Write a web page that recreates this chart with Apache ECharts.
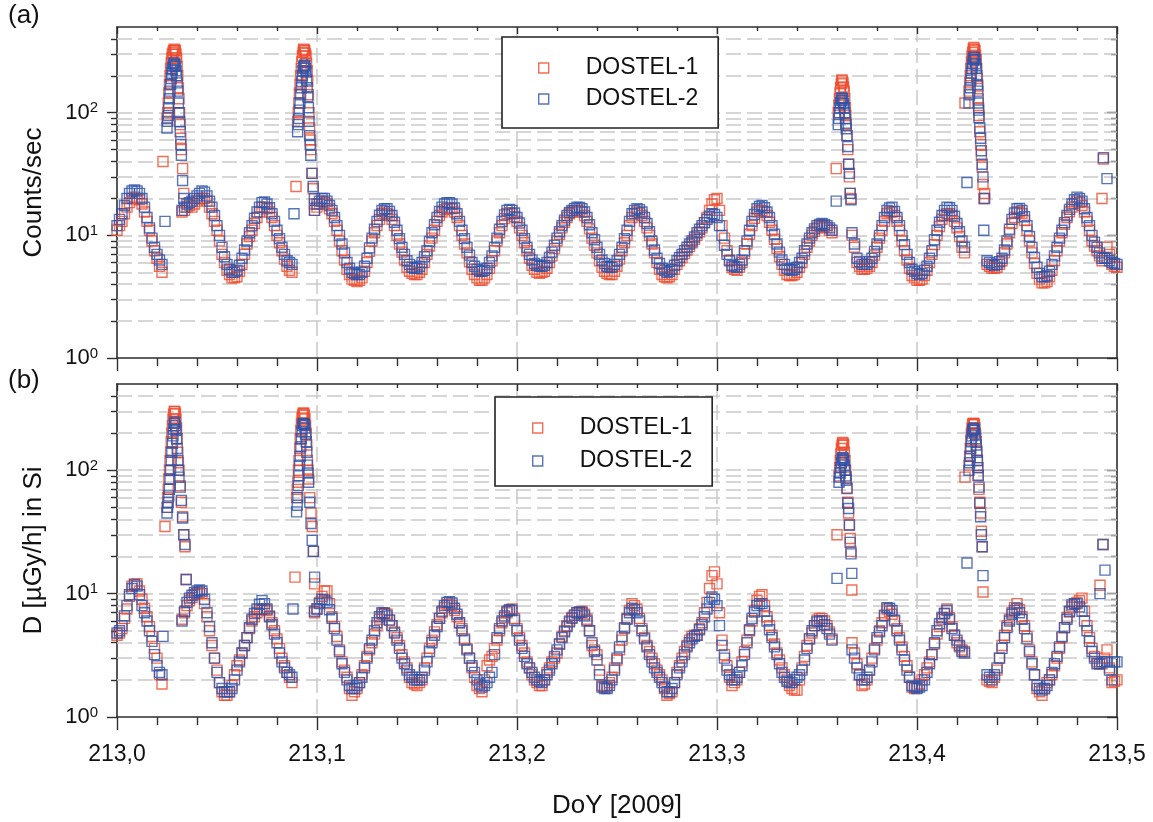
<!DOCTYPE html>
<html>
<head>
<meta charset="utf-8">
<title>DOSTEL count rates and dose rates, DoY 213 (2009)</title>
<script src="https://cdn.jsdelivr.net/npm/echarts@6/dist/echarts.min.js"></script>
<style>
  html, body { margin: 0; padding: 0; background: #ffffff; }
  #chart { width: 1153px; height: 822px; }
</style>
</head>
<body>
<div id="chart"></div>
<script>
// Regular sampling: one value every 0.00125 day (1.8 min) from DoY 213.000 to 213.500
const doyStart = 213.0;
const doyStep = 0.00125;

// (a) count rates [counts/sec], DOSTEL-1
const counts1 = [
  11, 12, 13, 15, 17, 18.5, 20, 20.5, 20, 19.5, 18, 15.5, 13, 11, 9, 7.5, 6.5, 5.6, 5, null,
  null, null, null, null, null, null, 15.5, 16, 17, 17.5, 17, 18, 19, 20, 20, 20, 19, 17, 15, 13,
  11, 9, 7, 6, 5.2, 4.8, 4.5, 4.5, 4.6, 5.1, 5.8, 7, 8.5, 9.8, 11, 12.5, 14, 15.5, 17, 17,
  16.5, 15.5, 14, 12, 10, 8.7, 7.5, 6.4, 5.6, 5.2, 5, null, null, null, null, null, null, null, null, 16,
  17, 18, 19, 18.5, 18, 16.5, 15, 13, 11, 9, 7.5, 6.3, 5.3, 4.8, 4.4, 4.3, 4.2, 4.3, 4.5, 5.1,
  6, 7.4, 9, 10.5, 12, 13.5, 15, 15.5, 15, 14.5, 13.5, 12, 10, 8.5, 7.3, 6.3, 5.5, 5.1, 4.9, 4.8,
  4.8, 5, 5.3, 6, 7, 8.2, 9.5, 11, 13, 14.5, 15.5, 16.2, 16.5, 16.7, 16.5, 15.5, 14, 12, 10, 8.5,
  7.2, 6.1, 5.3, 4.8, 4.5, 4.3, 4.3, 4.5, 4.8, 5.4, 6.2, 7.5, 9, 10.5, 12, 13.7, 15, 15.3, 15, 14.2,
  13, 11.5, 10, 8.7, 7.5, 6.5, 5.7, 5.3, 5, 4.9, 5, 5.1, 5.4, 6, 6.8, 7.8, 9, 10.2, 11.5, 12.8,
  14, 15, 15.5, 16, 16, 15.8, 15.5, 14.5, 13, 11.3, 9.5, 8.3, 7.2, 6.2, 5.5, 5.1, 4.9, 4.8, 4.8, 5.1,
  5.6, 6.4, 7.5, 8.7, 10, 12, 14, 15, 15.5, 15.2, 14.5, 13, 11.5, 10, 8.5, 7.2, 6, 5.3, 4.8, 4.6,
  4.5, 4.6, 4.8, 5.3, 5.8, 6.2, 6.6, 7.1, 7.6, 8.1, 8.7, 9.3, 10, 10.7, 11.5, 12.7, 14, 16, 18, 19.5,
  20, 16, 12, 9.5, 7.5, 6.3, 5.5, 5.3, 5.2, 5.5, 6, 7.1, 8.5, 10.2, 12, 13.8, 15.5, 16, 16, 15.5,
  14.5, 12.8, 11, 9.3, 7.8, 6.7, 5.8, 5.2, 4.8, 4.7, 4.7, 4.8, 5, 5.5, 6, 7, 8, 9, 10, 10.8,
  11.5, 11.8, 12, 11.8, 11.5, 11, 10.5, null, null, null, null, null, null, null, 10, 8, 6, 5.6, 5.3, 5.3,
  5.4, 5.6, 6, 6.9, 8, 9.5, 11, 13, 15, 15.5, 15.5, 14.5, 13, 11, 9, 7.5, 6.3, 5.4, 4.7, 4.5,
  4.3, 4.3, 4.4, 4.7, 5.2, 6, 7, 8.4, 10, 11.8, 13.5, 14.5, 15, 15, 14.5, 13, 11.5, 9.8, 8, 7.2,
  null, null, null, null, null, null, null, null, 5.8, 5.6, 5.4, 5.4, 5.5, 5.8, 6.2, 7.2, 8.5, 10.5, 12.5, 14,
  15.5, 15.5, 15, 13.2, 11, 9, 7.2, 5.9, 4.9, 4.4, 4.1, 4.1, 4.2, 4.6, 5.2, 6.2, 7.5, 9, 10.5, 12.3,
  14, 15.6, 17, 18.2, 19, 18.5, 17.5, 15.5, 13, 11, 9, 8.2, 7.5, 6.8, 6.2, 6.5, 8, 7, 5.8, 5.6,
  5.5
];

// (a) count rates [counts/sec], DOSTEL-2
const counts2 = [
  12, 13.5, 15, 17.5, 20, 22, 23, 23.5, 23, 22, 20, 17, 14, 11.5, 9.5, 8, 7, 6.3, 5.8, null,
  null, null, null, null, null, null, 16, 17, 18, 18.5, 19, 20, 21, 22, 23, 22.5, 21, 19, 17, 14.5,
  12, 10, 8, 6.7, 5.8, 5.3, 5, 5, 5.2, 5.7, 6.5, 7.6, 9, 10.5, 12, 13.8, 15.5, 17, 18.5, 18.7,
  18, 16.8, 15, 13, 11, 9.4, 8, 7, 6.2, 6, 5.8, null, null, null, null, null, null, null, null, 16,
  18, 19, 20, 20, 19, 17.5, 16, 14, 12, 10, 8.5, 7.2, 6, 5.4, 5, 4.9, 4.8, 4.8, 5, 5.6,
  6.5, 7.9, 9.5, 11.2, 13, 14.6, 16, 16.5, 16.5, 15.7, 14.5, 12.8, 11, 9.4, 8, 7, 6.2, 5.8, 5.5, 5.4,
  5.4, 5.6, 6, 6.7, 7.5, 8.9, 10.5, 12.2, 14, 15.7, 17, 18, 18.5, 18.5, 18, 16.7, 15, 13, 11, 9.4,
  8, 6.9, 6, 5.6, 5.3, 5.1, 5.1, 5.2, 5.4, 6, 6.8, 8, 9.5, 11.2, 13, 14.7, 16, 16.3, 16, 15.2,
  14, 12.6, 11, 9.4, 8, 7, 6.3, 5.9, 5.7, 5.6, 5.6, 5.7, 6, 6.6, 7.3, 8.3, 9.5, 10.7, 12, 13.3,
  14.5, 15.4, 16, 16.6, 17, 16.9, 16.5, 15.5, 14, 12.2, 10.5, 9.2, 8, 7, 6.3, 5.9, 5.6, 5.5, 5.5, 5.8,
  6.2, 7, 8, 9.4, 11, 13, 15, 16, 16.5, 16.2, 15.5, 14, 12.5, 10.7, 9, 7.6, 6.5, 5.9, 5.4, 5.2,
  5, 5.1, 5.3, 5.7, 6.2, 6.6, 7, 7.5, 8, 8.5, 9, 9.7, 10.5, 11.2, 12, 12.7, 13.5, 14.3, 15, 14.8,
  14, 12, 10, 8.3, 7, 6.2, 5.7, 5.6, 5.5, 5.8, 6.3, 7.5, 9, 11, 13, 14.8, 16.5, 17.2, 17.5, 16.8,
  15.5, 14, 12, 10.2, 8.5, 7.3, 6.3, 5.8, 5.4, 5.3, 5.2, 5.3, 5.5, 6, 6.5, 7.5, 8.5, 9.5, 10.5, 11.3,
  12, 12.3, 12.5, 12.3, 12, 11.5, 11, null, null, null, null, null, null, null, 10.5, 8.5, 6.5, 6.1, 5.8, 5.8,
  5.8, 6.1, 6.5, 7.4, 8.5, 10, 12, 14, 16, 16.7, 17, 15.7, 14, 12, 10, 8.4, 7, 6, 5.3, 5.1,
  4.9, 4.8, 4.9, 5.2, 5.6, 6.5, 7.5, 9.2, 11, 12.8, 14.5, 16, 17, 16.8, 16, 14.3, 12.5, 10.7, 9, 8,
  null, null, null, null, null, null, null, null, 6.2, 6, 5.8, 5.7, 5.8, 6.1, 6.5, 7.6, 9, 11.2, 13.5, 15.2,
  16.5, 16.6, 16, 14.2, 12, 9.8, 8, 6.6, 5.5, 4.9, 4.6, 4.6, 4.7, 5.1, 5.8, 6.8, 8, 9.5, 11, 12.7,
  14.5, 16.3, 18, 19.5, 20.5, 20, 19, 16.5, 14, 12, 10, 8.8, 8, 7.2, 6.5, 6.5, 6.5, 6.2, 6, 5.9,
  5.8
];

// (b) dose rates [µGy/h in Si], DOSTEL-1
const dose1 = [
  4.6, 4.8, 5.2, 6.3, 7.5, 9.5, 11.5, 12, 12, 10.5, 9, 7.6, 6.5, 5.4, 4.5, 3.6, 3, 2.2, 1.85, null,
  null, null, null, null, null, null, 6.2, 7, 8, 8.8, 9.3, 9.8, 10, 10.2, 10, 8.3, 6.5, 5, 3.8, 3,
  2.4, 1.9, 1.6, 1.5, 1.5, 1.6, 1.8, 2.2, 2.6, 2.9, 3.3, 3.8, 4.4, 5.2, 6, 6.5, 7, 7.4, 7.5, 7.5,
  7.3, 6.6, 5.8, 5, 4.3, 3.6, 3, 2.6, 2.3, 2.1, 1.9, null, null, null, null, null, null, null, null, 7,
  7.5, 8.5, 9.5, 10.5, 10.5, 8.3, 6.5, 5.4, 4.5, 3.5, 2.8, 2.4, 2.1, 1.7, 1.5, 1.6, 1.7, 1.9, 2.2, 2.6,
  3.1, 3.5, 4, 4.7, 5.5, 6.2, 6.8, 7, 6.8, 6.1, 5.5, 4.9, 4.4, 3.8, 3.2, 2.8, 2.5, 2.1, 1.9, 1.85,
  1.8, 1.9, 2, 2.5, 3, 3.6, 4.2, 4.9, 5.6, 6.3, 7, 7.7, 8.2, 8.1, 8, 7.3, 6.5, 5.8, 5.2, 4.3,
  3.6, 3, 2.5, 2.1, 1.8, 1.7, 1.6, 2, 2.6, 2.9, 3.1, 3.6, 4.2, 5, 5.8, 6.4, 7, 7.3, 7.5, 6.3,
  5.2, 4.4, 3.8, 3.3, 2.8, 2.5, 2.2, 2, 1.9, 1.8, 1.8, 2, 2.3, 2.5, 2.8, 3, 3.3, 3.9, 4.5, 5,
  5.5, 6, 6.4, 6.7, 7, 7.1, 7.2, 6.8, 6.2, 5, 3.8, 3.5, 3.2, 2.4, 1.8, 1.75, 1.75, 1.9, 2.1, 2.5,
  2.9, 3.5, 4.2, 5.2, 6.3, 7.3, 8.3, 8, 7.5, 6.3, 5.2, 4.4, 3.8, 3.4, 3, 2.7, 2.4, 2.2, 2, 1.7,
  1.5, 1.55, 1.6, 1.9, 2.3, 2.6, 3, 3.4, 3.8, 4.2, 4.5, 4.6, 4.6, 5.2, 5.8, 7, 8.5, 11, 14, 15,
  12, 7, 4.2, 3.2, 2.6, 2.1, 1.8, 1.9, 2, 2.3, 2.8, 3.4, 4.2, 5, 6, 7.3, 8.8, 9.5, 9.8, 8,
  6.5, 5.5, 4.6, 3.9, 3.3, 2.9, 2.5, 2.2, 2, 1.8, 1.7, 1.65, 1.65, 2, 2.5, 3.1, 3.8, 4.3, 4.8, 5.5,
  6.1, 6.3, 6.3, 6, 5.5, 4.9, 4.3, null, null, null, null, null, null, null, 4, 3.3, 2.7, 2.2, 1.8, 1.85,
  2, 2.4, 3, 3.6, 4.2, 5, 5.8, 6.7, 7.5, 7.2, 6.8, 6, 5.2, 4.4, 3.7, 3.1, 2.6, 2.1, 1.75, 1.7,
  1.75, 1.85, 2, 2.2, 2.5, 2.8, 3.2, 3.9, 4.7, 5.4, 6.2, 6.9, 7.5, 6.4, 5.4, 4.6, 4, 3.7, 3.5, 3.4,
  null, null, null, null, null, null, null, null, 2, 1.95, 1.9, 2.1, 2.4, 3, 3.8, 4.6, 5.5, 6.2, 7, 7.7,
  8.3, 7.4, 6.5, 5.5, 4.5, 3.5, 2.8, 2.2, 1.7, 1.6, 1.5, 1.7, 1.9, 2, 2.2, 2.6, 3, 3.6, 4.4, 5.3,
  6.4, 7.1, 7.8, 8.2, 8.5, 8.8, 9.2, 7.2, 5.5, 4.4, 3.6, 3.1, 2.8, 2.7, 2.7, 3, 3.5, 2.5, 1.9, 1.95,
  2
];

// (b) dose rates [µGy/h in Si], DOSTEL-2
const dose2 = [
  4.8, 5, 5.5, 6.6, 8, 9.8, 11, 11.8, 11.5, 9.8, 8, 7, 6, 5, 4.1, 3.2, 2.6, 2.3, 2.2, null,
  null, null, null, null, null, null, 6, 7.2, 8.5, 9.2, 9.7, 10.2, 10.5, 10.7, 10.5, 9, 7, 5.4, 4, 3,
  2.3, 1.9, 1.7, 1.6, 1.6, 1.6, 1.7, 2, 2.4, 2.8, 3.3, 3.8, 4.4, 5.3, 6.2, 6.9, 7.5, 8.2, 8.8, 8.3,
  7.5, 6.5, 5.6, 4.7, 4, 3.3, 2.8, 2.5, 2.3, 2.2, 2.1, null, null, null, null, null, null, null, null, 7.2,
  7.5, 8.3, 9, 8.9, 8.5, 7.4, 6.3, 5.2, 4.2, 3.4, 2.7, 2.3, 2, 1.8, 1.7, 1.7, 1.8, 1.9, 2.1, 2.5,
  3, 3.6, 4.2, 5, 5.8, 6.5, 7, 6.9, 6.6, 6.1, 5.5, 4.8, 4.2, 3.6, 3, 2.7, 2.4, 2.2, 2.1, 2,
  2, 2, 2.1, 2.4, 2.8, 3.4, 4, 4.6, 5.4, 6.3, 7.2, 8, 8.5, 8.6, 8.4, 7.6, 6.8, 5.8, 5, 4.2,
  3.5, 3, 2.6, 2.3, 2, 1.85, 1.75, 1.8, 1.9, 2.1, 2.3, 3.2, 4.4, 5.2, 6, 6.6, 7.2, 7.4, 7.3, 6.1,
  5, 4.2, 3.6, 3.1, 2.7, 2.5, 2.3, 2.1, 2, 1.95, 1.9, 2, 2.2, 2.4, 2.7, 3.1, 3.5, 3.9, 4.4, 4.9,
  5.4, 5.9, 6.3, 6.7, 7, 7.1, 7, 6.6, 6, 5, 4, 3.4, 2.9, 2.2, 1.75, 1.7, 1.7, 1.8, 2, 2.4,
  3, 3.7, 4.5, 5.3, 6.2, 7, 7.6, 7.4, 7, 6, 5, 4.3, 3.7, 3.2, 2.8, 2.5, 2.3, 2.1, 1.9, 1.75,
  1.6, 1.6, 1.7, 1.9, 2.2, 2.5, 2.8, 3.2, 3.7, 4, 4.3, 4.5, 4.6, 5.1, 5.6, 6.5, 7.5, 8.5, 9.4, 9,
  8, 5.5, 3.8, 3, 2.4, 2.2, 2, 2, 2.1, 2.3, 2.6, 3.2, 4, 5.1, 6.3, 7.1, 8, 8.3, 8.3, 7.2,
  6, 5.1, 4.4, 3.7, 3.2, 2.7, 2.3, 2.1, 1.95, 1.9, 1.9, 2, 2.1, 2.2, 2.4, 2.9, 3.6, 4.3, 5, 5.5,
  5.9, 6, 6, 5.6, 5.2, 4.7, 4.2, null, null, null, null, null, null, null, 3.5, 3, 2.5, 2.2, 2, 2,
  2.1, 2.4, 2.8, 3.5, 4.4, 4.9, 5.5, 6.6, 7.7, 7.6, 7.3, 6.1, 5, 4.2, 3.5, 2.9, 2.4, 2.1, 1.8, 1.75,
  1.7, 1.75, 1.8, 2, 2.3, 2.7, 3.2, 4, 5, 5.7, 6.4, 6.9, 7.3, 6.2, 5.2, 4.6, 4.2, 3.8, 3.4, 3.3,
  null, null, null, null, null, null, null, null, 2.2, 2.1, 2, 2.2, 2.5, 3, 3.6, 4.4, 5.3, 6, 6.8, 7.3,
  7.6, 7, 6.2, 5.2, 4.3, 3.4, 2.7, 2.2, 1.8, 1.7, 1.65, 1.7, 1.8, 2, 2.3, 2.7, 3.1, 3.7, 4.5, 5.3,
  6.2, 7.2, 8.1, 8.3, 8.3, 7.8, 7.2, 6, 5, 4.1, 3.4, 3, 2.7, 2.7, 2.8, 2.8, 2.8, 2.4, 2, 2.8,
  2.8
];

// SAA passes: denser sampling, own time stamps (DoY)
const countsPassDoy = [
  213.0230, 213.0240, 213.0250, 213.0256, 213.0262, 213.0268, 213.0274, 213.0280, 213.0286,
  213.0292, 213.0298, 213.0304, 213.0310, 213.0316, 213.0322, 213.0328, 213.0334,
  213.0253, 213.0259, 213.0265, 213.0271, 213.0277, 213.0283, 213.0289, 213.0295, 213.0301,
  213.0307, 213.0313, 213.0319,
  213.0885, 213.0895, 213.0903, 213.0909, 213.0915, 213.0921, 213.0927, 213.0933, 213.0939,
  213.0945, 213.0951, 213.0957, 213.0963, 213.0969, 213.0975, 213.0981, 213.0987,
  213.0906, 213.0912, 213.0918, 213.0924, 213.0930, 213.0936, 213.0942, 213.0948, 213.0954,
  213.0960, 213.0966,
  213.3596, 213.3606, 213.3612, 213.3618, 213.3624, 213.3630, 213.3636, 213.3642, 213.3646,
  213.3650, 213.3654, 213.3658, 213.3662, 213.3666, 213.3670,
  213.3609, 213.3615, 213.3621, 213.3627, 213.3633, 213.3639, 213.3644,
  213.4240, 213.4250, 213.4260, 213.4266, 213.4272, 213.4278, 213.4284, 213.4290, 213.4296,
  213.4302, 213.4306, 213.4310, 213.4314, 213.4318, 213.4322, 213.4326, 213.4330, 213.4334, 213.4338,
  213.4263, 213.4269, 213.4275, 213.4281, 213.4287, 213.4293, 213.4299, 213.4304, 213.4308,
  213.4925, 213.4932, 213.4950
];
const countsPass1 = [
  40, null, 90, 120, 170, 230, 280, 310, 330,
  320, 280, 200, 130, 80, 50, 35, 22,
  100, 145, 200, 255, 300, 320, 325, 300, 240,
  160, 100, 62,
  null, 25, 85, 120, 170, 230, 290, 330, 320,
  290, 220, 140, 75, 50, 32, 24, 18,
  100, 145, 200, 260, 310, 325, 305, 255, 180,
  100, 60,
  35, 100, 130, 160, 185, 175, 150, 110, 80,
  65, 50, 38, 30, 22, 20,
  115, 145, 172, 182, 162, 130, 95,
  120, null, 150, 200, 260, 310, 340, 320, 270,
  190, 130, 95, 70, 55, 45, 36, 26, 20, 22,
  175, 230, 290, 330, 330, 295, 230, 165, 110,
  20, 42, null
];
const countsPass2 = [
  null, 13, 75, 95, 130, 170, 210, 240, 255,
  240, 200, 150, 100, 70, 45, 28, 20,
  85, 110, 150, 190, 225, 250, 245, 220, 175,
  120, 85, 55,
  15, null, 70, 90, 120, 160, 200, 235, 245,
  215, 160, 110, 65, 45, 32, 25, 20,
  80, 105, 140, 180, 220, 240, 230, 185, 135,
  85, 55,
  19, 80, 100, 120, 132, 125, 110, 90, 74,
  65, 53, 38, 32, 22, 19.5,
  90, 110, 126, 130, 118, 100, 82,
  null, 27, 120, 160, 210, 250, 285, 270, 230,
  170, 120, 91, 75, 62, 49, 38, 30, 11, 20,
  140, 185, 230, 270, 280, 250, 200, 150, 105,
  null, 43, 29
];

const dosePassDoy = [
  213.0230, 213.0240, 213.0250, 213.0256, 213.0262, 213.0268, 213.0274, 213.0280, 213.0286, 213.0292,
  213.0298, 213.0304, 213.0310, 213.0316, 213.0322, 213.0328, 213.0334, 213.0340, 213.0346,
  213.0253, 213.0259, 213.0265, 213.0271, 213.0277, 213.0283, 213.0289, 213.0295, 213.0301, 213.0307,
  213.0880, 213.0890, 213.0898, 213.0904, 213.0910, 213.0916, 213.0922, 213.0928, 213.0934,
  213.0940, 213.0946, 213.0952, 213.0958, 213.0964, 213.0970, 213.0976, 213.0982, 213.0988,
  213.0901, 213.0907, 213.0913, 213.0919, 213.0925, 213.0931, 213.0937, 213.0943, 213.0949, 213.0955,
  213.3600, 213.3610, 213.3616, 213.3622, 213.3628, 213.3634, 213.3640, 213.3646, 213.3650,
  213.3654, 213.3658, 213.3662, 213.3666, 213.3670, 213.3674,
  213.3613, 213.3619, 213.3625, 213.3631, 213.3637, 213.3643,
  213.4240, 213.4250, 213.4260, 213.4266, 213.4272, 213.4278, 213.4284, 213.4290, 213.4296,
  213.4302, 213.4306, 213.4310, 213.4314, 213.4318, 213.4322, 213.4326, 213.4330,
  213.4263, 213.4269, 213.4275, 213.4281, 213.4287, 213.4293, 213.4299, 213.4304,
  213.4915, 213.4930, 213.4940
];
const dosePass1 = [
  null, 35, 50, 70, 100, 140, 200, 260, 300, 290,
  220, 140, 100, 75, 55, 42, 30, 24, 13,
  60, 85, 120, 170, 230, 285, 300, 260, 180, 115,
  null, 13.6, 60, 80, 120, 180, 240, 280, 290,
  260, 200, 120, 85, 60, 45, 35, 22, 12,
  70, 100, 150, 210, 265, 290, 280, 230, 160, 100,
  30, 90, 120, 150, 168, 160, 120, 88, 72,
  55, 45, 36, 28, 22, 10.7,
  105, 135, 160, 165, 140, 100,
  88, null, 110, 150, 200, 235, 240, 220, 170,
  120, 90, 70, 55, 45, 32, 24, 10.3,
  130, 175, 220, 240, 235, 195, 145, 105,
  11.7, 25, null
];
const dosePass2 = [
  4.5, null, 45, 55, 70, 100, 140, 190, 240, 230,
  180, 120, 88, 73, 57, 41, 30, 25, 13,
  50, 62, 85, 120, 165, 215, 245, 210, 150, 100,
  7.5, null, 46, 60, 90, 130, 180, 230, 240,
  220, 170, 110, 80, 55, 37, 27, 22, 13.6,
  52, 75, 110, 155, 205, 238, 235, 195, 140, 95,
  13.3, 80, 95, 115, 127, 120, 100, 83, 71,
  54, 49, 36, 26, 21, 14.6,
  88, 105, 122, 125, 110, 90,
  null, 17.7, 100, 130, 170, 210, 219, 200, 160,
  120, 91, 73, 54, 42, 30, 24, 14,
  115, 150, 190, 215, 212, 180, 140, 105,
  10, 25, 15.5
];

// Axis ticks and labels
const xTickLabels = ['213,0', '213,1', '213,2', '213,3', '213,4', '213,5'];
const decadeTicks = [1, 10, 100];
const subDecadeTicks = [2, 3, 4, 5, 6, 7, 8, 9, 20, 30, 40, 50, 60, 70, 80, 90, 200, 300, 400];
const horizontalGrid = [2, 3, 4, 5, 6, 7, 8, 9, 10, 20, 30, 40, 50, 60, 70, 80, 90, 100, 200, 300, 400];

const RED = '#ef4a2c';
const BLUE = '#2d52aa';
const AXIS = '#2e2e2e';
const GRIDLINE = '#c9c9c9';
const TEXT = '#111111';
const FONT = '"Liberation Sans", Arial, Helvetica, sans-serif';

const doyGrid = counts1.map((_, i) => +(doyStart + i * doyStep).toFixed(5));

function points(times, values) {
  const out = [];
  values.forEach((v, i) => { if (v !== null) out.push([times[i], v]); });
  return out;
}

function xAxesFor(g, withLabels) {
  return [
    {
      type: 'value', gridIndex: g, position: 'bottom', min: 213, max: 213.5, interval: 0.1,
      axisLine: { show: true, onZero: false, lineStyle: { color: AXIS, width: 1.6 } },
      axisTick: { show: true, inside: false, length: 13, lineStyle: { color: AXIS, width: 1.4 } },
      minorTick: { show: true, splitNumber: 5, length: 8, lineStyle: { color: AXIS, width: 1.4 } },
      splitLine: { show: true, showMinLine: false, showMaxLine: false,
        lineStyle: { color: GRIDLINE, width: 1.5, type: [15, 6] } },
      axisLabel: {
        show: withLabels, margin: 26, fontSize: 23, fontFamily: FONT, color: TEXT,
        formatter: v => xTickLabels[Math.round((v - 213) * 10)]
      },
      name: withLabels ? 'DoY [2009]' : '', nameLocation: 'middle', nameGap: 76,
      nameTextStyle: { fontSize: 26, fontFamily: FONT, color: TEXT }
    },
    {
      type: 'value', gridIndex: g, position: 'top', min: 213, max: 213.5, interval: 0.1,
      axisLine: { show: true, onZero: false, lineStyle: { color: AXIS, width: 1.6 } },
      axisTick: { show: true, inside: true, length: 7, lineStyle: { color: AXIS, width: 1.4 } },
      minorTick: { show: true, splitNumber: 5, length: 4, lineStyle: { color: AXIS, width: 1.4 } },
      splitLine: { show: false }, axisLabel: { show: false }
    }
  ];
}

function yAxesFor(g, name) {
  const base = {
    type: 'log', logBase: 10, gridIndex: g, min: 1, max: 500,
    splitLine: { show: false }, axisLabel: { show: false },
    axisLine: { show: false }, axisTick: { show: false }
  };
  const tickStyle = { color: AXIS, width: 1.4 };
  return [
    Object.assign({}, base, {
      position: 'left',
      axisLine: { show: true, onZero: false, lineStyle: { color: AXIS, width: 1.6 } },
      axisTick: { show: true, inside: false, length: 10, customValues: decadeTicks, lineStyle: tickStyle },
      axisLabel: {
        show: true, customValues: decadeTicks, margin: 19,
        formatter: v => '{b|10}{s|' + Math.round(Math.log10(v)) + '}',
        rich: {
          b: { fontSize: 22, fontFamily: FONT, color: TEXT, lineHeight: 24 },
          s: { fontSize: 15, fontFamily: FONT, color: TEXT, verticalAlign: 'top', lineHeight: 15 }
        }
      },
      name: name, nameLocation: 'middle', nameGap: 70,
      nameTextStyle: { fontSize: 26, fontFamily: FONT, color: TEXT }
    }),
    Object.assign({}, base, {
      position: 'left',
      axisTick: { show: true, inside: false, length: 6, customValues: subDecadeTicks, lineStyle: tickStyle }
    }),
    Object.assign({}, base, {
      position: 'right',
      axisLine: { show: true, onZero: false, lineStyle: { color: AXIS, width: 1.6 } },
      axisTick: { show: true, inside: true, length: 10, customValues: decadeTicks, lineStyle: tickStyle }
    }),
    Object.assign({}, base, {
      position: 'right',
      axisTick: { show: true, inside: true, length: 6, customValues: subDecadeTicks, lineStyle: tickStyle }
    })
  ];
}

function scatter(name, color, g, data, withGrid) {
  const s = {
    type: 'scatter', name: name, xAxisIndex: 2 * g, yAxisIndex: 4 * g,
    data: data, symbol: 'rect', symbolSize: 10,
    itemStyle: { color: 'rgba(0,0,0,0)', borderColor: color, borderWidth: 1.4 },
    emphasis: { disabled: true }, silent: true, z: 3
  };
  if (withGrid) {
    s.markLine = {
      silent: true, symbol: ['none', 'none'], z: 1, animation: false,
      label: { show: false },
      lineStyle: { color: GRIDLINE, width: 1.5, type: [15, 6] },
      emphasis: { disabled: true },
      data: horizontalGrid.map(v => ({ yAxis: v }))
    };
  }
  return s;
}

function legendAt(left, top, gap, padding) {
  return {
    orient: 'vertical', left: left, top: top, itemWidth: 10, itemHeight: 10, itemGap: gap,
    padding: padding, borderColor: '#222', borderWidth: 1.6, backgroundColor: '#fff',
    selectedMode: false,
    textStyle: { fontSize: 23, fontFamily: FONT, color: TEXT, lineHeight: 24, padding: [0, 0, 0, 32] },
    data: [
      { name: 'DOSTEL-1', icon: 'rect', itemStyle: { color: 'rgba(0,0,0,0)', borderColor: RED, borderWidth: 1.4 } },
      { name: 'DOSTEL-2', icon: 'rect', itemStyle: { color: 'rgba(0,0,0,0)', borderColor: BLUE, borderWidth: 1.4 } }
    ]
  };
}

const chart = echarts.init(document.getElementById('chart'), null, { renderer: 'canvas' });
chart.setOption({
  animation: false,
  backgroundColor: '#ffffff',
  textStyle: { fontFamily: FONT },
  title: [
    { text: '(a)', left: 8, top: 3, padding: 0, textStyle: { fontSize: 26, fontWeight: 'normal', fontFamily: FONT, color: TEXT } },
    { text: '(b)', left: 8, top: 368, padding: 0, textStyle: { fontSize: 26, fontWeight: 'normal', fontFamily: FONT, color: TEXT } }
  ],
  legend: [
    legendAt(502, 37, 7, [19, 20, 17, 36]),
    legendAt(495, 397, 9, [19, 20, 13, 37])
  ],
  grid: [
    { left: 117, top: 27, width: 1000, height: 331, containLabel: false, outerBoundsMode: 'none' },
    { left: 117, top: 384, width: 1000, height: 333, containLabel: false, outerBoundsMode: 'none' }
  ],
  xAxis: xAxesFor(0, false).concat(xAxesFor(1, true)),
  yAxis: yAxesFor(0, 'Counts/sec').concat(yAxesFor(1, 'D [µGy/h] in Si')),
  series: [
    scatter('DOSTEL-1', RED, 0, points(doyGrid, counts1).concat(points(countsPassDoy, countsPass1)), true),
    scatter('DOSTEL-2', BLUE, 0, points(doyGrid, counts2).concat(points(countsPassDoy, countsPass2)), false),
    scatter('DOSTEL-1', RED, 1, points(doyGrid, dose1).concat(points(dosePassDoy, dosePass1)), true),
    scatter('DOSTEL-2', BLUE, 1, points(doyGrid, dose2).concat(points(dosePassDoy, dosePass2)), false)
  ]
});
</script>
</body>
</html>
